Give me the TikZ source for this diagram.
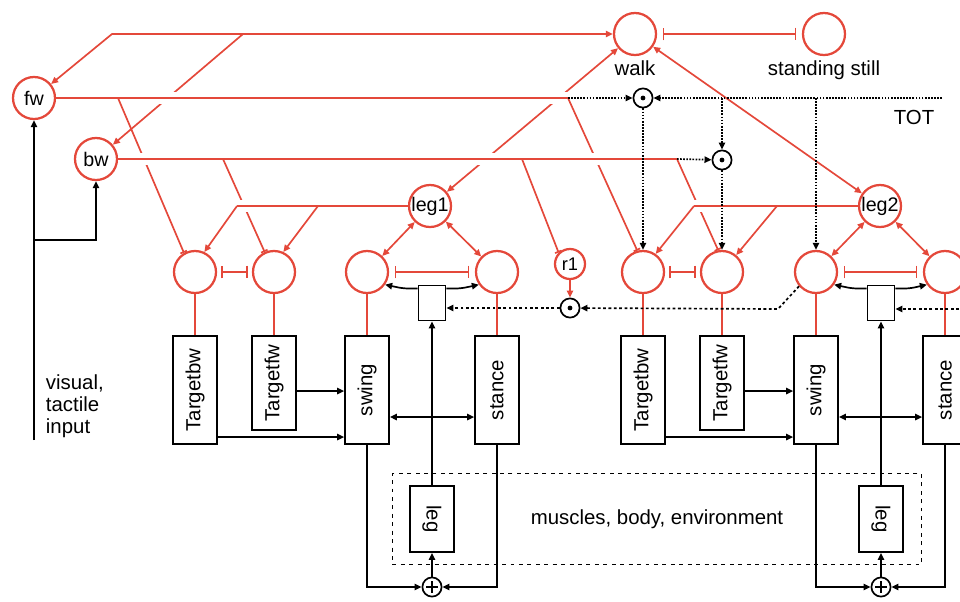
\documentclass[tikz,border=0pt]{standalone}
\usepackage{fontspec}
\setmainfont{Liberation Sans}
\usepackage{tikz}
\usetikzlibrary{positioning, calc, arrows.meta}
\definecolor{netred}{RGB}{228,72,58}
\tikzstyle{cell} = [circle, draw=netred, line width=1.6pt, minimum size=1.05cm, inner sep=0pt, font=\fontsize{14}{16}\selectfont]
\tikzstyle{smallcell} = [cell, minimum size=0.75cm, font=\fontsize{13}{15}\selectfont]
\tikzstyle{blk} = [rectangle, draw=black, line width=1.2pt, minimum width=1.1cm, minimum height=2.7cm, inner sep=0pt, font=\fontsize{14.5}{16}\selectfont]
\tikzstyle{gatenode} = [circle, draw=black, line width=1.2pt, minimum size=0.48cm, inner sep=0pt, path picture={\fill (path picture bounding box.center) circle (1.7pt);}]
\tikzstyle{sumnode} = [circle, draw=black, line width=1.2pt, minimum size=0.48cm, inner sep=0pt, path picture={\draw[line width=1pt] ([yshift=-4pt]path picture bounding box.center) -- ([yshift=4pt]path picture bounding box.center) ([xshift=-4pt]path picture bounding box.center) -- ([xshift=4pt]path picture bounding box.center);}]
\tikzstyle{envbox} = [rectangle, draw=black, line width=1.2pt, dash pattern=on 2.8pt off 3.2pt, minimum width=13.225cm, minimum height=2.275cm, font=\fontsize{14.5}{16}\selectfont]
\tikzstyle{redline} = [draw=netred, line width=1.2pt]
\tikzstyle{excite} = [redline, ->]
\tikzstyle{inhibit} = [redline, -{Bar[width=5pt]}]
\tikzstyle{mutual} = [redline, {Bar[width=9pt]}-{Bar[width=9pt]}, shorten <=4pt, shorten >=4pt]
\tikzstyle{overpass} = [redline, preaction={draw=white, line width=8pt, -}]
\tikzstyle{sig} = [draw=black, line width=1.2pt, ->]
\tikzstyle{tot} = [draw=black, line width=1.2pt, densely dotted, ->]
\tikzstyle{feedback} = [draw=black, line width=1.2pt, dash pattern=on 2pt off 1.8pt, ->]
\tikzstyle{txt} = [font=\fontsize{14.5}{15.5}\selectfont]

\begin{document}
\begin{tikzpicture}[x=0.025cm, y=-0.025cm, >={Triangle[length=5pt,width=4.5pt]}]
	\useasboundingbox (0,0) rectangle (960,601);
	\clip (0,0) rectangle (960,601);
	% command units
	\node (fw) [cell] at (34,98) {fw};
	\node (bw) [cell] at (96,159) {bw};
	\node (walk) [cell, label={[txt]below:walk}] at (635,34) {};
	\node (still) [cell, label={[txt]below:standing still}] at (824,34) {};
	\node (leg1) [cell] at (430,206) {leg1};
	\node (leg2) [cell] at (880,206) {leg2};
	\node (r1) [smallcell] at (570,264) {r1};
	% leg 1 units
	\node (tb1c) [cell] at (195,272) {};
	\node (tf1c) [cell] at (274,272) {};
	\node (sw1c) [cell] at (367,272) {};
	\node (st1c) [cell] at (497,272) {};
	% leg 2 units
	\node (tb2c) [cell] at (643,272) {};
	\node (tf2c) [cell] at (722,272) {};
	\node (sw2c) [cell] at (816,272) {};
	\node (st2c) [cell] at (945,272) {};
	% controllers
	\node (tb1) [blk] at (195,390) {\rotatebox{90}{Targetbw}};
	\node (tf1) [blk, minimum height=2.35cm] at (274,383) {\rotatebox{90}{Targetfw}};
	\node (sw1) [blk] at (367,390) {\rotatebox{90}{swing}};
	\node (st1) [blk] at (497,390) {\rotatebox{90}{stance}};
	\node (tb2) [blk] at (643,390) {\rotatebox{90}{Targetbw}};
	\node (tf2) [blk, minimum height=2.35cm] at (722,383) {\rotatebox{90}{Targetfw}};
	\node (sw2) [blk] at (816,390) {\rotatebox{90}{swing}};
	\node (st2) [blk] at (945,390) {\rotatebox{90}{stance}};
	\node (sel1) [blk, minimum width=0.68cm, minimum height=0.88cm] at (432,303) {};
	\node (sel2) [blk, minimum width=0.68cm, minimum height=0.88cm] at (881,303) {};
	\node (env) [envbox] at (657,519) {muscles, body, environment};
	\node (body1) [blk, minimum height=1.65cm] at (432,519) {\rotatebox{-90}{leg}};
	\node (body2) [blk, minimum height=1.65cm] at (881,519) {\rotatebox{-90}{leg}};
	\node (sum1) [sumnode] at (432,587) {};
	\node (sum2) [sumnode] at (881,587) {};
	\node (g1) [gatenode] at (643,98) {};
	\node (g2) [gatenode] at (722,160) {};
	\node (g3) [gatenode] at (570,308) {};
	\node (totlabel) [txt] at (914,117) {TOT};
	\node (input) [txt, align=left, anchor=west] at (41,406) {visual,\\tactile\\input};
	% branch points
	\coordinate (topl) at (112,34);
	\coordinate (topm) at (243,34);
	\coordinate (fwa) at (118,98);
	\coordinate (fwj) at (568,98);
	\coordinate (bwa) at (223,159);
	\coordinate (bwb) at (522,159);
	\coordinate (bwj) at (677,159);
	\coordinate (l1a) at (237,206);
	\coordinate (l1b) at (318,206);
	\coordinate (l2a) at (694,206);
	\coordinate (l2b) at (777,206);
	\coordinate (totend) at (942,98);
	\coordinate (tota) at (722,98);
	\coordinate (totb) at (816,98);
	\coordinate (sw2turn) at (778,309);
	\coordinate (rightin) at (975,309);
	\coordinate (inbot) at (34,440);
	\coordinate (inbr) at (34,240);

	\draw [excite, <->] (walk) -- (topl) -- (fw);
	\draw [excite] (topm) -- (bw);
	\draw [excite, <->] (walk) -- (leg1);
	\draw [excite, <->] (walk) -- (leg2);
	\draw [mutual] (walk) -- (still);
	\draw [overpass] (fw) -- (fwj);
	\draw [inhibit] (fwa) -- (tb1c.120);
	\draw [inhibit] (fwj) -- (tb2c.105);
	\draw [overpass] (bw) -- (bwj);
	\draw [inhibit] (bwa) -- (tf1c.115);
	\draw [inhibit] (bwb) -- (r1.135);
	\draw [inhibit] (bwj) -- (tf2c.100);
	\draw [overpass] (leg1) -- (l1a);
	\draw [excite] (l1a) -- (tb1c.65);
	\draw [excite] (l1b) -- (tf1c.65);
	\draw [overpass] (leg2) -- (l2a);
	\draw [excite] (l2a) -- (tb2c.55);
	\draw [excite] (l2b) -- (tf2c.50);
	\draw [excite, <->] (leg1) -- (sw1c);
	\draw [excite, <->] (leg1) -- (st1c);
	\draw [excite, <->] (leg2) -- (sw2c);
	\draw [excite, <->] (leg2) -- (st2c);
	\draw [mutual, shorten <=3pt, shorten >=3pt] (tb1c) -- (tf1c);
	\draw [mutual] (sw1c) -- (st1c);
	\draw [mutual, shorten <=3pt, shorten >=3pt] (tb2c) -- (tf2c);
	\draw [mutual] (sw2c) -- (st2c);
	\draw [redline] (tb1c) -- (tb1);
	\draw [redline] (tf1c) -- (tf1);
	\draw [redline] (sw1c) -- (sw1);
	\draw [redline] (st1c) -- (st1);
	\draw [redline] (tb2c) -- (tb2);
	\draw [redline] (tf2c) -- (tf2);
	\draw [redline] (sw2c) -- (sw2);
	\draw [redline] (st2c) -- (st2);
	\draw [excite] (r1) -- (g3);

	\draw [tot] (fwj) -- (g1);
	\draw [tot] (totend) -- (g1);
	\draw [tot] (bwj) -- (g2);
	\draw [tot] (tota) -- (g2);
	\draw [tot] (totb) -- (sw2c);
	\draw [tot] (g1) -- (tb2c);
	\draw [tot] (g2) -- (tf2c);
	\draw [feedback] (g3) -- (sel1.east |- g3);
	\draw [feedback] (sw2c.-140) -- (sw2turn) -- (g3);
	\draw [feedback] (rightin) -- (sel2.east |- rightin);

	\draw [sig] (inbot) -- (fw);
	\draw [sig] (inbr) -| (bw);
	\draw [sig] ($(tf1.east)+(0,8)$) -- ($(sw1.west)+(0,1)$);
	\draw [sig] ($(tb1.east)+(0,47)$) -- ($(sw1.west)+(0,47)$);
	\draw [sig, <->] ($(sw1.east)+(0,27)$) -- ($(st1.west)+(0,27)$);
	\draw [sig] (body1) -- (sel1);
	\draw [sig, rounded corners=4pt] ($(sel1.north west)+(0,4)$) -- ++(-14,0) -- (sw1c.-35);
	\draw [sig, rounded corners=4pt] ($(sel1.north east)+(0,4)$) -- ++(14,0) -- (st1c.-145);
	\draw [sig] (sw1) |- (sum1);
	\draw [sig] (st1) |- (sum1);
	\draw [sig] (sum1) -- (body1);
	\draw [sig] ($(tf2.east)+(0,8)$) -- ($(sw2.west)+(0,1)$);
	\draw [sig] ($(tb2.east)+(0,47)$) -- ($(sw2.west)+(0,47)$);
	\draw [sig, <->] ($(sw2.east)+(0,27)$) -- ($(st2.west)+(0,27)$);
	\draw [sig] (body2) -- (sel2);
	\draw [sig, rounded corners=4pt] ($(sel2.north west)+(0,4)$) -- ++(-14,0) -- (sw2c.-35);
	\draw [sig, rounded corners=4pt] ($(sel2.north east)+(0,4)$) -- ++(14,0) -- (st2c.-145);
	\draw [sig] (sw2) |- (sum2);
	\draw [sig] (st2) |- (sum2);
	\draw [sig] (sum2) -- (body2);
\end{tikzpicture}
\end{document}
